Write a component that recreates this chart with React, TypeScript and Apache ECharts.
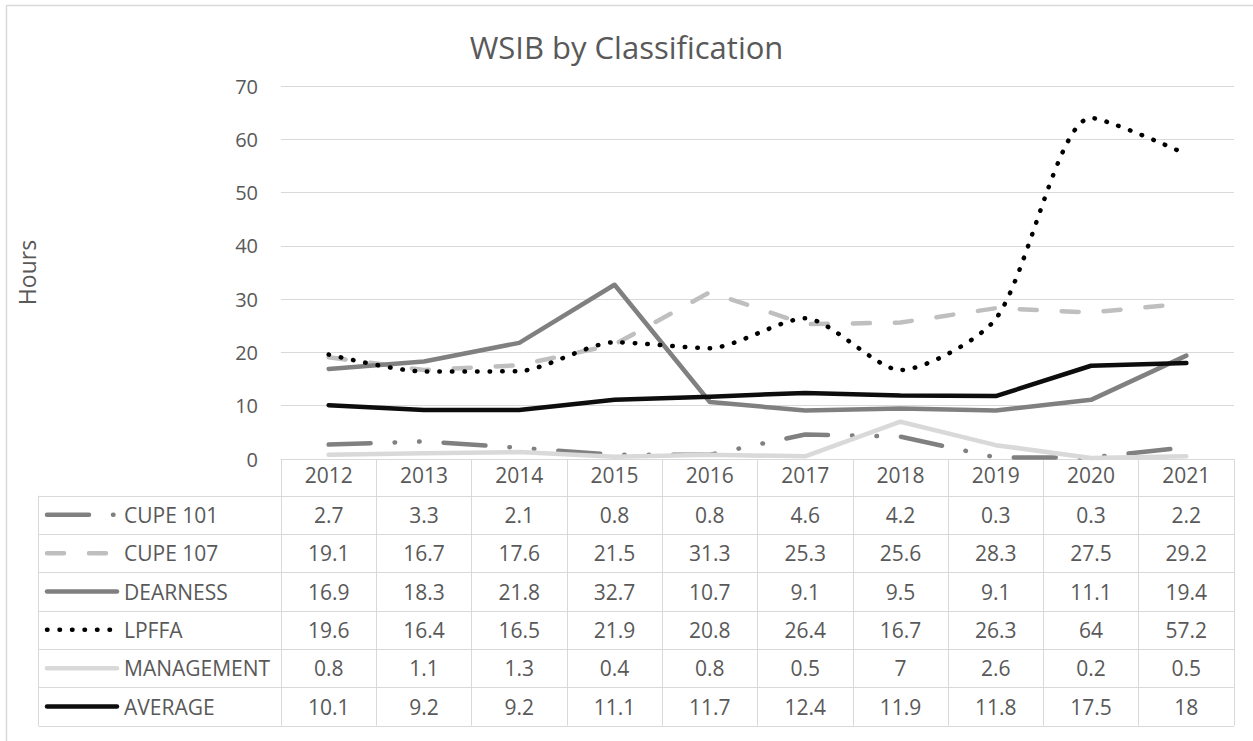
import React, { useEffect, useRef } from "react";
import * as echarts from "echarts";

const years = ["2012", "2013", "2014", "2015", "2016", "2017", "2018", "2019", "2020", "2021"];
const cupe101 = [2.7, 3.3, 2.1, 0.8, 0.8, 4.6, 4.2, 0.3, 0.3, 2.2];
const cupe107 = [19.1, 16.7, 17.6, 21.5, 31.3, 25.3, 25.6, 28.3, 27.5, 29.2];
const dearness = [16.9, 18.3, 21.8, 32.7, 10.7, 9.1, 9.5, 9.1, 11.1, 19.4];
const lpffa = [19.6, 16.4, 16.5, 21.9, 20.8, 26.4, 16.7, 26.3, 64, 57.2];
const management = [0.8, 1.1, 1.3, 0.4, 0.8, 0.5, 7, 2.6, 0.2, 0.5];
const average = [10.1, 9.2, 9.2, 11.1, 11.7, 12.4, 11.9, 11.8, 17.5, 18];

const title = "WSIB by Classification";
const yAxisName = "Hours";
const yMin = 0;
const yMax = 70;
const yStep = 10;

const FONT = "'Open Sans', 'Noto Sans', sans-serif";
const TEXT = "#595959";
const GRIDC = "#d9d9d9";
const FS = 20;
const TFS = 21;

export default function App() {
  const ref = useRef<HTMLDivElement>(null);
  useEffect(() => {
    const chart = echarts.init(ref.current!, null, { renderer: "svg" });
    const defs = [
      { name: "CUPE 101", data: cupe101, color: "#808080", dash: [42, 24, 0.5, 24, 0.5, 24], smooth: false },
      { name: "CUPE 107", data: cupe107, color: "#bfbfbf", dash: [17, 25], smooth: false },
      { name: "DEARNESS", data: dearness, color: "#808080", dash: "solid", smooth: false },
      { name: "LPFFA", data: lpffa, color: "#000000", dash: [0.5, 12], smooth: 0.25 },
      { name: "MANAGEMENT", data: management, color: "#d9d9d9", dash: "solid", smooth: false },
      { name: "AVERAGE", data: average, color: "#0d0d0d", dash: "solid", smooth: false },
    ];
    const tableTop = 459;
    const headerH = 36.7;
    const rowH = 38.33;
    const rowsTop = tableTop + headerH;
    const tableLeft = 38.5;
    const tableRight = 1234;

    const base: any = {
      animation: false,
      textStyle: { fontFamily: FONT },
      title: {
        text: title,
        left: "center",
        top: 26,
        textStyle: { fontFamily: FONT, fontSize: 31, fontWeight: "normal", color: TEXT },
      },
      grid: { left: 281, right: 19, top: 86, bottom: 741 - 459 },
      xAxis: {
        type: "category",
        data: years,
        boundaryGap: true,
        axisLine: { show: true, lineStyle: { color: GRIDC, width: 1 } },
        axisTick: { show: true, length: rowsTop + rowH * defs.length - tableTop, lineStyle: { color: GRIDC, width: 1 } },
        axisLabel: { color: TEXT, fontSize: TFS, fontFamily: FONT, margin: 5 },
      },
      yAxis: {
        type: "value",
        min: yMin,
        max: yMax,
        interval: yStep,
        name: yAxisName,
        nameLocation: "middle",
        nameRotate: 90,
        nameGap: 243,
        nameTextStyle: { color: TEXT, fontSize: 23, fontFamily: FONT },
        axisLine: { show: false },
        axisTick: { show: false },
        axisLabel: { color: TEXT, fontSize: FS, fontFamily: FONT, margin: 23 },
        splitLine: { lineStyle: { color: GRIDC, width: 1 } },
      },
      series: defs.map((d) => ({
        name: d.name,
        type: "line",
        data: d.data,
        symbol: "none",
        smooth: d.smooth,
        lineStyle: { color: d.color, width: 4.5, type: d.dash, cap: "round", join: "round" },
        z: 2,
      })),
    };
    chart.setOption(base);

    const graphics: any[] = [];
    graphics.push({
      type: "rect",
      silent: true,
      shape: { x: 6.5, y: 5.5, width: 1300, height: 800 },
      style: { fill: "none", stroke: GRIDC, lineWidth: 1.5 },
    });
    for (let i = 0; i <= defs.length; i++) {
      const y = Math.round(rowsTop + rowH * i) + 0.5;
      graphics.push({
        type: "line",
        silent: true,
        shape: { x1: tableLeft, y1: y, x2: tableRight, y2: y },
        style: { stroke: GRIDC, lineWidth: 1 },
      });
    }
    graphics.push({
      type: "line",
      silent: true,
      shape: { x1: tableLeft, y1: rowsTop, x2: tableLeft, y2: rowsTop + rowH * defs.length },
      style: { stroke: GRIDC, lineWidth: 1 },
    });
    defs.forEach((d, r) => {
      const cy = rowsTop + rowH * r + rowH / 2;
      graphics.push({
        type: "line",
        silent: true,
        shape: { x1: 47, y1: cy, x2: 117, y2: cy },
        style: {
          stroke: d.color,
          lineWidth: 4.5,
          lineDash: d.dash === "solid" ? null : d.dash,
          lineCap: "round",
        },
      });
      graphics.push({
        type: "text",
        silent: true,
        x: 124,
        y: cy,
        style: { text: d.name, fill: TEXT, font: `${TFS}px ${FONT}`, textVerticalAlign: "middle", verticalAlign: "middle" },
      });
      d.data.forEach((v, i) => {
        const cx = chart.convertToPixel({ xAxisIndex: 0 }, years[i]) as number;
        graphics.push({
          type: "text",
          silent: true,
          x: cx,
          y: cy,
          style: {
            text: String(v),
            fill: TEXT,
            font: `${TFS}px ${FONT}`,
            align: "center",
            textAlign: "center",
            verticalAlign: "middle",
            textVerticalAlign: "middle",
          },
        });
      });
    });
    chart.setOption({ graphic: graphics });
    return () => chart.dispose();
  }, []);
  return (
    <div
      ref={ref}
      style={{ position: "fixed", left: 0, top: 0, width: 1253, height: 741, background: "#fff" }}
    />
  );
}
